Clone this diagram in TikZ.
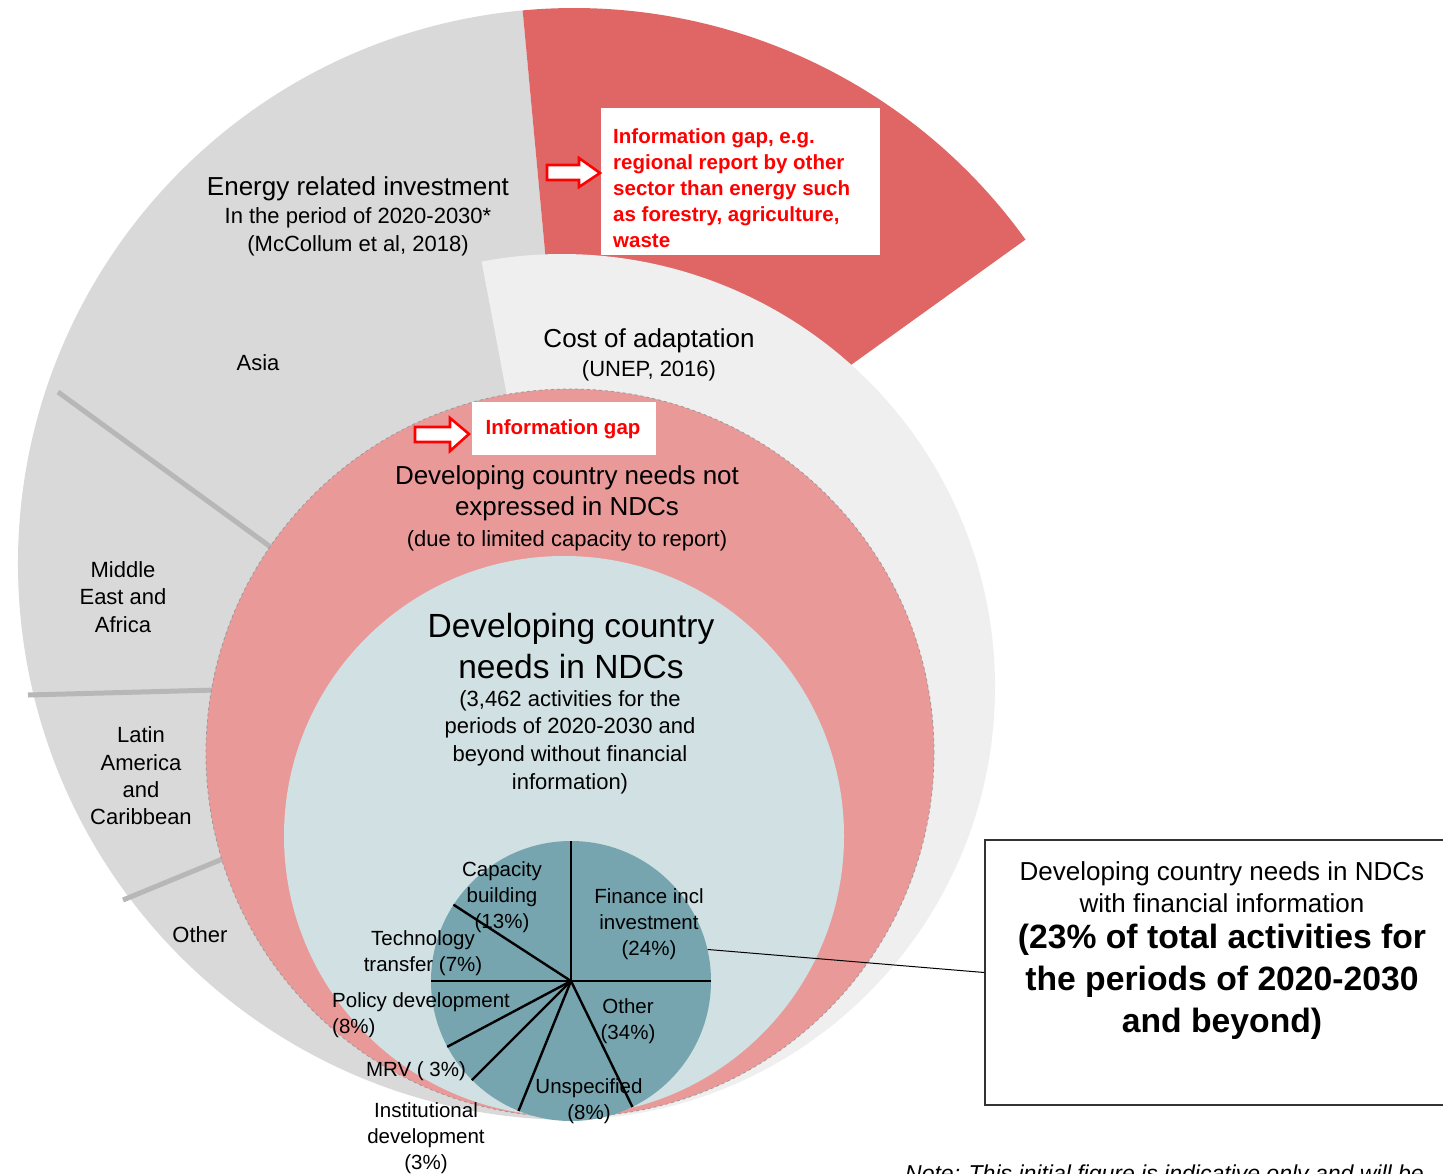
\documentclass[tikz,border=0pt]{standalone}
\usepackage{fontspec}
\setmainfont{Liberation Sans}
\definecolor{grayA}{HTML}{D9D9D9}
\definecolor{grayB}{HTML}{EFEFEF}
\definecolor{redS}{HTML}{E06666}
\definecolor{pinkC}{HTML}{EA9999}
\definecolor{blueC}{HTML}{D0E0E3}
\definecolor{pieC}{HTML}{76A5AF}
\definecolor{sepC}{HTML}{B7B7B7}
\definecolor{gapred}{HTML}{FF0000}
\begin{document}
\begin{tikzpicture}[x=1pt,y=1pt,
  lbl/.style={inner sep=0pt, align=center, text=black},
  sepline/.style={sepC, line width=5pt},
  pieline/.style={black, line width=2.4pt},
  gaparrow/.style={draw=gapred, line width=2.6pt, fill=white, line join=miter},
  whitebox/.style={fill=white, inner sep=0pt},
  redtxt/.style={text=gapred, font=\bfseries\fontsize{20.5}{26}\selectfont, inner sep=0pt},
  pielbl/.style={lbl, font=\fontsize{20.5}{26}\selectfont}]
\useasboundingbox (0,0) rectangle (1443,-1173);
\fill[white] (0,0) rectangle (1443,-1173);
% big outer gray sector (energy related investment)
\fill[grayA] (574,-564) -- ++(95.3:556) arc[start angle=95.3, end angle=270, radius=556] -- cycle;
% red sector (information gap)
\fill[redS] (574,-564) -- ++(35.7:556) arc[start angle=35.7, end angle=95.3, radius=556] -- cycle;
% region separators
\coordinate (s1a) at (58,-392); \coordinate (s1b) at (272,-548);
\coordinate (s2a) at (28,-695); \coordinate (s2b) at (216,-690);
\coordinate (s3a) at (123,-900); \coordinate (s3b) at (225,-858);
\draw[sepline] (s1a) -- (s1b);
\draw[sepline] (s2a) -- (s2b);
\draw[sepline] (s3a) -- (s3b);
% cost of adaptation wedge
\fill[grayB] (562,-687) -- ++(-90:433) arc[start angle=-90, end angle=100.7, radius=433] -- cycle;
% not expressed circle
\fill[pinkC] (570,-753) circle[radius=364];
\draw[gray!80, line width=0.8pt, dashed] (570,-753) circle[radius=364];
% NDC circle
\fill[blueC] (564,-836) circle[radius=280];
% pie
\node[circle, fill=pieC, minimum size=280pt, inner sep=0pt] (pie) at (571,-981) {};
\foreach \a in {90,147.4,180,208.6,225,248.9,296.6,0}
  \draw[pieline] (pie.center) -- (pie.\a);

% texts in outer ring
\node[lbl, font=\fontsize{22}{28}\selectfont] (energy) at (358,-216)
  {{\fontsize{26}{28}\selectfont Energy related investment}\\In the period of 2020-2030*\\(McCollum et al, 2018)};
\node[lbl, font=\fontsize{22}{27.5}\selectfont] (asia) at (258,-363) {Asia};
\node[lbl, font=\fontsize{22}{27.5}\selectfont] (mea) at (123,-597) {Middle\\East and\\Africa};
\node[lbl, font=\fontsize{22}{27.3}\selectfont] (lac) at (141,-776) {Latin\\America\\and\\Caribbean};
\node[lbl, font=\fontsize{22}{27.5}\selectfont] (othr) at (200,-935) {Other};
\node[lbl, font=\fontsize{22}{29}\selectfont] (cost) at (649,-355)
  {{\fontsize{26}{29}\selectfont Cost of adaptation}\\(UNEP, 2016)};
\node[lbl, font=\fontsize{22}{31}\selectfont] (notexp) at (567,-508)
  {{\fontsize{26}{31}\selectfont Developing country needs not}\\{\fontsize{26}{31}\selectfont expressed in NDCs}\\(due to limited capacity to report)};
\node[lbl, font=\fontsize{33.5}{41}\selectfont] (ndc) at (571,-646) {Developing country\\needs in NDCs};
\node[lbl, font=\fontsize{22}{27.7}\selectfont] (ndcsub) at (570,-742)
  {(3,462 activities for the\\periods of 2020-2030 and\\beyond without financial\\information)};

% pie labels
\node[pielbl] (cap) at (502,-897) {Capacity\\building\\(13\%)};
\node[pielbl] (fin) at (649,-924) {Finance incl\\investment\\(24\%)};
\node[pielbl] (tech) at (423,-953) {Technology\\transfer (7\%)};
\node[pielbl, align=left, anchor=west] (pol) at (332,-1015) {Policy development\\(8\%)};
\node[pielbl] (oth) at (628,-1021) {Other\\(34\%)};
\node[pielbl] (mrv) at (416,-1071) {MRV ( 3\%)};
\node[pielbl] (inst) at (426,-1138) {Institutional\\development\\(3\%)};
\node[pielbl] (unsp) at (589,-1101) {Unspecified\\(8\%)};

% information gap boxes and arrows
\node[whitebox, minimum width=279pt, minimum height=147pt] (gapbox) at (740.5,-181.5) {};
\node[redtxt, align=left, anchor=west] (gaptxt) at (613,-188)
  {Information gap, e.g.\\regional report by other\\sector than energy such\\as forestry, agriculture,\\waste};
\draw[gaparrow] (547,-165) -- (579,-165) -- (579,-158) -- (600,-173) -- (579,-187) -- (579,-180) -- (547,-180) -- cycle;

\node[whitebox, minimum width=184pt, minimum height=53pt] (gapbox2) at (564,-428.5) {};
\node[redtxt] (gaptxt2) at (563,-429) {Information gap};
\draw[gaparrow] (415,-427) -- (450,-427) -- (450,-418) -- (469,-434) -- (450,-451) -- (450,-442) -- (415,-442) -- cycle;

% financial information box
\node[draw=black!80, line width=1.2pt, fill=white, minimum width=470pt, minimum height=265pt, inner sep=0pt] (fbox) at (1220,-972.5) {};
\node[lbl, font=\fontsize{26}{32}\selectfont] (fin1) at (1222,-887) {Developing country needs in NDCs\\with financial information};
\node[lbl, font=\bfseries\fontsize{33.7}{42}\selectfont] (fin2) at (1222,-982) {(23\% of total activities for\\the periods of 2020-2030\\and beyond)};
\draw[line width=1pt] (pie.13) -- (fbox.west);

% note
\node[anchor=base west, inner sep=0pt, font=\itshape\fontsize{23}{28}\selectfont] (note) at (905,-1181) {Note: This initial figure is indicative only and will be};
\end{tikzpicture}
\end{document}
